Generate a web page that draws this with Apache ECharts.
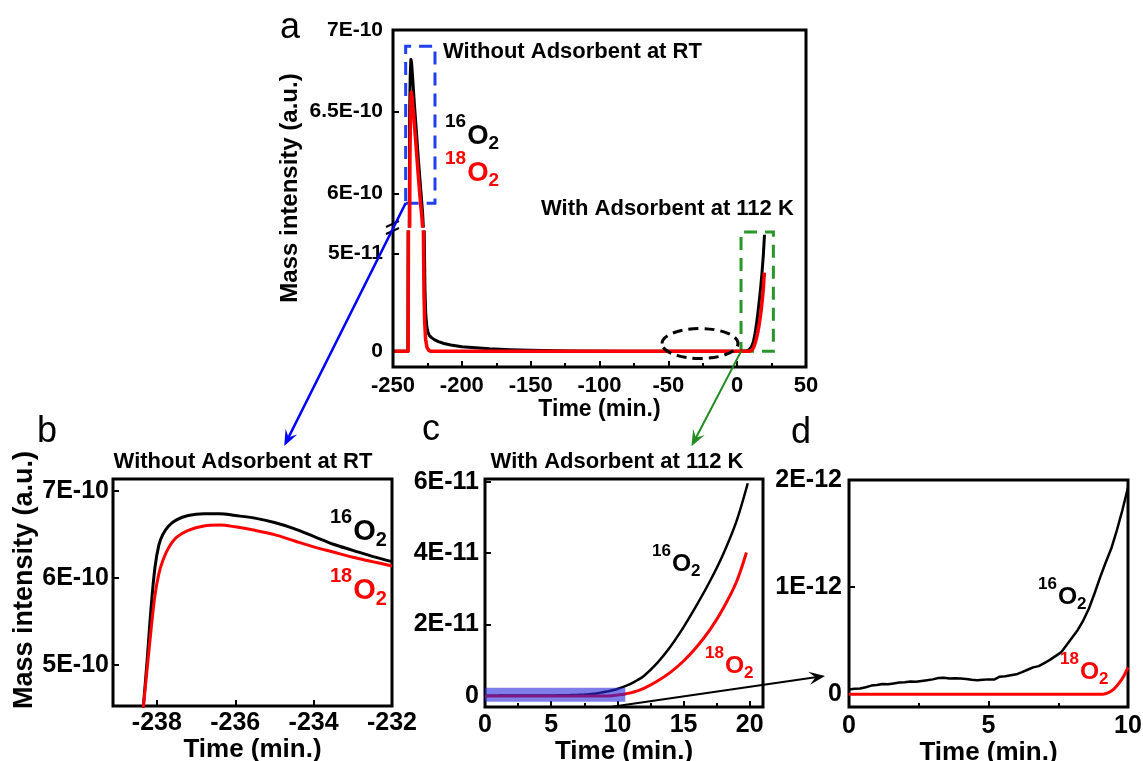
<!DOCTYPE html>
<html>
<head>
<meta charset="utf-8">
<script src="https://cdn.jsdelivr.net/npm/echarts@6/dist/echarts.min.js"></script>
<style>
  html, body { margin: 0; padding: 0; background: #fff; }
  #chart { width: 1143px; height: 761px; }
</style>
</head>
<body>
<div id="chart"></div>
<script>
// ---------------- data (time in min., intensity in a.u.) ----------------

// Panel a: desorption peak without adsorbent at RT, plus the slow tail
const aPeakO16Time = [-250, -239.2, -238.8, -238.5, -238.2, -237.9, -237.5, -237.0, -236.5, -235.5, -234.5, -233, -231.5, -230, -228.5, -228.0,
                      -227.4, -226.8, -226.2, -225.4, -224.5, -223.5, -222, -220, -217, -213, -208, -200, -190, -180, -165, -150, -120, -80];
const aPeakO16 = [0, 0, 1.2e-10, 3.6e-10, 5.8e-10, 6.5e-10, 6.72e-10, 6.82e-10, 6.8e-10, 6.68e-10, 6.55e-10, 6.38e-10, 6.2e-10, 6.04e-10, 5.88e-10, 5.8e-10,
                  6.5e-11, 3.2e-11, 1.9e-11, 1.25e-11, 9.5e-12, 8e-12, 7e-12, 6e-12, 5e-12, 4e-12, 3.2e-12, 2.4e-12, 1.8e-12, 1.3e-12, 0.8e-12, 0.5e-12, 0.2e-12, 0.05e-12];
const aPeakO18Time = [-250, -239.0, -238.6, -238.3, -238.0, -237.7, -237.3, -236.8, -236.3, -235, -233.5, -232, -230.5, -229, -228.4,
                      -227.9, -227.5, -227.0, -226.3, -225.3, -224, -222.5, -200];
const aPeakO18 = [0, 0, 1.2e-10, 3.4e-10, 5.5e-10, 6.2e-10, 6.5e-10, 6.62e-10, 6.6e-10, 6.48e-10, 6.32e-10, 6.15e-10, 5.99e-10, 5.85e-10, 5.78e-10,
                  6e-11, 3e-11, 1.5e-11, 6e-12, 2e-12, 0.5e-12, 0, 0];

// Panel b: zoom on the peak
const bTime = [-238.35, -238.25, -238.15, -238.05, -237.95, -237.85, -237.7, -237.5, -237.2, -236.8, -236.4, -236.0, -235.5, -235.0, -234.5, -234.0, -233.5, -233.0, -232.5, -232.0];
const bO16 = [4.5e-10, 5.05e-10, 5.65e-10, 6.12e-10, 6.38e-10, 6.5e-10, 6.6e-10, 6.67e-10, 6.72e-10, 6.74e-10, 6.74e-10, 6.72e-10, 6.69e-10, 6.64e-10, 6.57e-10, 6.48e-10, 6.39e-10, 6.32e-10, 6.25e-10, 6.19e-10];
const bO18 = [4.5e-10, 4.95e-10, 5.4e-10, 5.8e-10, 6.05e-10, 6.2e-10, 6.35e-10, 6.47e-10, 6.55e-10, 6.6e-10, 6.61e-10, 6.59e-10, 6.55e-10, 6.5e-10, 6.43e-10, 6.36e-10, 6.3e-10, 6.24e-10, 6.19e-10, 6.14e-10];

// Panel d: first 10 min with adsorbent at 112 K
const dO16Time = [0, 0.2, 0.4, 0.6, 0.8, 1.0, 1.2, 1.4, 1.6, 1.8, 2.0, 2.2, 2.4, 2.6, 2.8, 3.0, 3.2, 3.4, 3.6, 3.8, 4.0, 4.2, 4.4, 4.6, 4.8, 5.0,
                  5.2, 5.4, 5.6, 5.8, 6.0, 6.2, 6.4, 6.6, 6.8, 7.0, 7.2, 7.4, 7.6, 7.8, 8.0, 8.2, 8.4, 8.6, 8.8, 9.0, 9.2, 9.4, 9.6, 9.8, 10.0];
const dO16 = [0.044e-12, 0.05e-12, 0.053e-12, 0.065e-12, 0.08e-12, 0.085e-12, 0.095e-12, 0.092e-12, 0.1e-12, 0.108e-12, 0.112e-12, 0.118e-12, 0.115e-12,
              0.122e-12, 0.13e-12, 0.138e-12, 0.15e-12, 0.153e-12, 0.146e-12, 0.149e-12, 0.147e-12, 0.142e-12, 0.135e-12, 0.13e-12, 0.134e-12, 0.138e-12,
              0.136e-12, 0.163e-12, 0.168e-12, 0.176e-12, 0.185e-12, 0.205e-12, 0.228e-12, 0.25e-12, 0.262e-12, 0.29e-12, 0.32e-12, 0.355e-12, 0.39e-12,
              0.46e-12, 0.53e-12, 0.6e-12, 0.69e-12, 0.8e-12, 0.94e-12, 1.09e-12, 1.23e-12, 1.36e-12, 1.53e-12, 1.72e-12, 1.93e-12];
const dO18Time = [0, 9.1, 9.3, 9.5, 9.7, 9.85, 10.0];
const dO18 = [0, 0, 0.015e-12, 0.05e-12, 0.11e-12, 0.17e-12, 0.25e-12];

// Panel c: the rise after 10 min (continues the panel d data)
const riseO16Time = [10.5, 11, 11.5, 12, 13, 14, 15, 16, 17, 18, 19, 19.85];
const riseO16 = [2.6e-12, 3.4e-12, 4.4e-12, 5.6e-12, 9.2e-12, 13.8e-12, 19.3e-12, 25.5e-12, 32.2e-12, 39.8e-12, 49e-12, 59.6e-12];
const riseO18Time = [10.5, 11, 11.5, 12, 13, 14, 15, 16, 17, 18, 19, 19.75];
const riseO18 = [0.5e-12, 0.85e-12, 1.4e-12, 2.1e-12, 4.1e-12, 6.6e-12, 9.8e-12, 13.8e-12, 18.6e-12, 24.6e-12, 32e-12, 40.2e-12];

// Tick values
const aXTicksInterval = 50;
const aTopYTicks = [6e-10, 6.5e-10, 7e-10];
const aBotYTicks = [0, 5e-11];
const bXTicks = [-238, -236, -234, -232];
const bYTicks = [5e-10, 6e-10, 7e-10];
const cYTicks = [0, 2e-11, 4e-11, 6e-11];
const dYTicks = [0, 1e-12, 2e-12];

// ---------------- helpers ----------------
const FONT = '"Liberation Sans", Arial, Helvetica, sans-serif';
const RED = '#ff0000';
const BLUE = '#1f3ff0';
const GREEN = '#2a962a';
const zip = (xs, ys) => xs.map((x, i) => [x, ys[i]]);
const sci = v => v === 0 ? '0' : Number(v.toPrecision(6)).toExponential().toUpperCase().replace('+', '');

const cO16 = zip(dO16Time, dO16).concat(zip(riseO16Time, riseO16));
const cO18 = zip(dO18Time, dO18).concat(zip(riseO18Time, riseO18));
const aO16 = zip(aPeakO16Time, aPeakO16).concat(cO16);
const aO18 = zip(aPeakO18Time, aPeakO18).concat(cO18);

// ---------------- layout ----------------
const GRIDS = [
  { left: 393, top: 30,  width: 413, height: 196 },  // a, upper (broken) part
  { left: 393, top: 232, width: 413, height: 135 },  // a, lower part
  { left: 113, top: 479, width: 279, height: 227 },  // b
  { left: 485, top: 479, width: 278, height: 228 },  // c
  { left: 849, top: 480, width: 279, height: 227 }   // d
];

const TICK_STYLE = { color: '#000', width: 2 };

function xAx(gridIndex, extra, fs, margin) {
  return Object.assign({
    type: 'value', gridIndex: gridIndex,
    axisLine: { show: false, onZero: false },
    axisTick: { inside: true, length: 6, lineStyle: TICK_STYLE },
    minorTick: { show: true, splitNumber: 2, length: 4, lineStyle: TICK_STYLE },
    splitLine: { show: false },
    axisLabel: { color: '#000', fontWeight: 'bold', fontSize: fs, fontFamily: FONT, margin: margin },
    nameLocation: 'middle',
    nameTextStyle: { color: '#000', fontWeight: 'bold', fontFamily: FONT }
  }, extra);
}
function yAx(gridIndex, min, max, ticks, fs, margin) {
  return {
    type: 'value', gridIndex: gridIndex, min: min, max: max,
    axisLine: { show: false, onZero: false },
    axisTick: { inside: true, length: 6, customValues: ticks, lineStyle: TICK_STYLE },
    splitLine: { show: false },
    axisLabel: { customValues: ticks, formatter: sci, color: '#000', fontWeight: 'bold', fontSize: fs, fontFamily: FONT, margin: margin }
  };
}
function line(name, xi, data, color, width, extra) {
  return Object.assign({
    name: name, type: 'line', xAxisIndex: xi, yAxisIndex: xi, data: data,
    symbol: 'none', clip: true, silent: true,
    lineStyle: { color: color, width: width, join: 'round' }, itemStyle: { color: color }
  }, extra || {});
}
function dashedBox(p1, p2, color) {
  return {
    silent: true, z: 3,
    itemStyle: { color: 'rgba(0,0,0,0)', borderColor: color, borderWidth: 3, borderType: [13, 8] },
    data: [[{ coord: p1 }, { coord: p2 }]]
  };
}
const nameStyle = fs => ({ color: '#000', fontWeight: 'bold', fontFamily: FONT, fontSize: fs });

const chart = echarts.init(document.getElementById('chart'));

chart.setOption({
  animation: false,
  backgroundColor: '#fff',
  grid: GRIDS.map((g, i) => Object.assign({
    show: i >= 2, borderColor: '#000', borderWidth: 3, containLabel: false, outerBoundsMode: 'none'
  }, g)),
  xAxis: [
    xAx(0, { min: -250, max: 50, interval: aXTicksInterval, show: false }, 22, 8),
    xAx(1, { min: -250, max: 50, interval: aXTicksInterval, name: 'Time (min.)', nameGap: 31, nameTextStyle: nameStyle(23) }, 22, 8),
    xAx(2, { min: -239.12, max: -232, minorTick: { show: false },
             axisTick: { inside: true, length: 6, customValues: bXTicks, lineStyle: TICK_STYLE },
             axisLabel: { customValues: bXTicks, color: '#000', fontWeight: 'bold', fontSize: 25, fontFamily: FONT, margin: 5 },
             name: 'Time (min.)', nameGap: 27, nameTextStyle: nameStyle(26) }, 25, 5),
    xAx(3, { min: 0, max: 21, interval: 5, name: 'Time (min.)', nameGap: 27, nameTextStyle: nameStyle(26) }, 25, 6),
    xAx(4, { min: 0, max: 10, interval: 5, name: 'Time (min.)', nameGap: 29, nameTextStyle: nameStyle(26) }, 25, 7)
  ],
  yAxis: [
    yAx(0, 5.8e-10, 7e-10, aTopYTicks, 21, 10),
    yAx(1, -0.8e-11, 6.1e-11, aBotYTicks, 21, 10),
    yAx(2, 4.53e-10, 7.14e-10, bYTicks, 25, 4),
    yAx(3, -0.31e-11, 6.08e-11, cYTicks, 25, 6),
    yAx(4, -0.12e-12, 2e-12, dYTicks, 25, 7)
  ],
  series: [
    // a, upper part
    line('16O2', 0, aO16, '#000', 3, { markArea: dashedBox([-240.8, 5.94e-10], [-219.5, 6.9e-10], BLUE) }),
    line('18O2', 0, aO18, RED, 3.5),
    // a, lower part
    line('16O2', 1, aO16, '#000', 3, { markArea: dashedBox([2.8, 0], [26.3, 6.1e-11], GREEN) }),
    line('18O2', 1, aO18, RED, 3.5),
    // b
    line('16O2', 2, zip(bTime, bO16), '#000', 3, { smooth: 0.35 }),
    line('18O2', 2, zip(bTime, bO18), RED, 3, { smooth: 0.35 }),
    // c
    line('16O2', 3, cO16, '#000', 2.5, { smooth: 0.3 }),
    line('18O2', 3, cO18, RED, 3, { smooth: 0.3 }),
    line('range', 3, [[0, 0]], '#000', 0, {
      z: 6, lineStyle: { width: 0, opacity: 0 },
      markArea: { silent: true, z: 10, itemStyle: { color: 'rgba(40,40,220,0.6)', borderWidth: 0 },
                  data: [[{ coord: [0, -0.16e-11] }, { coord: [10.6, 0.23e-11] }]] }
    }),
    // d
    line('16O2', 4, zip(dO16Time, dO16), '#000', 2.5),
    line('18O2', 4, zip(dO18Time, dO18), RED, 3, { smooth: 0.3 })
  ]
});

// ---------------- annotations ----------------
const px = (grid, p) => chart.convertToPixel({ gridIndex: grid }, p);

function arrow(p0, p1, color, w) {
  const dx = p1[0] - p0[0], dy = p1[1] - p0[1];
  const L = Math.hypot(dx, dy), ux = dx / L, uy = dy / L, nx = -uy, ny = ux;
  const head = 16, half = 6.5;
  const base = [p1[0] - ux * head, p1[1] - uy * head];
  const notch = [p1[0] - ux * head * 0.6, p1[1] - uy * head * 0.6];
  return [
    { type: 'line', z: 60, shape: { x1: p0[0], y1: p0[1], x2: notch[0], y2: notch[1] }, style: { stroke: color, lineWidth: w } },
    { type: 'polygon', z: 60, shape: { points: [p1, [base[0] + nx * half, base[1] + ny * half], notch, [base[0] - nx * half, base[1] - ny * half]] },
      style: { fill: color } }
  ];
}

function text(x, y, str, size, opts) {
  opts = opts || {};
  return {
    type: 'text', x: x, y: y, z: 50, rotation: opts.rotation || 0,
    style: {
      text: str, fill: opts.color || '#000', fontSize: size, fontWeight: opts.weight || 'bold', fontFamily: FONT,
      align: opts.align || 'left', verticalAlign: opts.valign || 'middle'
    }
  };
}

// isotope label: superscript mass number, O, subscript 2 (X0, Y0 = top-left of the mass number)
function isoLabel(X0, Y0, mass, color, s) {
  const so = s * 1.45;
  const wSup = 2 * 0.556 * s;
  const wO = 0.778 * so;
  const st = size => ({ fill: color, fontSize: size, fontWeight: 'bold', fontFamily: FONT, verticalAlign: 'top' });
  return [
    { type: 'text', z: 50, x: X0, y: Y0 - 0.14 * s, style: Object.assign({ text: mass }, st(s)) },
    { type: 'text', z: 50, x: X0 + wSup + 1, y: Y0 + 0.6 * s - 0.14 * so, style: Object.assign({ text: 'O' }, st(so)) },
    { type: 'text', z: 50, x: X0 + wSup + 1 + wO, y: Y0 + 1.02 * s, style: Object.assign({ text: '2' }, st(s)) }
  ];
}

const ga = GRIDS[0], gb = GRIDS[1];
const ellC = px(1, [-27, 0.4e-11]);
const blueStart = px(0, [-240.8, 5.94e-10]);
const blueEnd = px(2, [-234.75, 7.52e-10]);
const greenStart = px(1, [2.8, 0]);
const greenEnd = px(3, [15.6, 7.0e-11]);
const blackStart = px(3, [9.6, -0.3e-11]);
const blackEnd = px(4, [-0.86, 0.17e-12]);

const graphic = [
  // frame of panel a (spans both parts of the broken axis)
  { type: 'rect', z: 40, shape: { x: ga.left, y: ga.top, width: ga.width, height: gb.top + gb.height - ga.top },
    style: { fill: 'none', stroke: '#000', lineWidth: 3 } },
  // axis break marks
  { type: 'line', z: 41, shape: { x1: ga.left - 7, y1: 227, x2: ga.left + 6, y2: 221 }, style: { stroke: '#000', lineWidth: 2 } },
  { type: 'line', z: 41, shape: { x1: ga.left - 7, y1: 234, x2: ga.left + 6, y2: 228 }, style: { stroke: '#000', lineWidth: 2 } },
  // dashed ellipse around the baseline before 0 min
  { type: 'ellipse', z: 45, shape: { cx: ellC[0], cy: ellC[1], rx: 38, ry: 15 },
    style: { fill: 'none', stroke: '#000', lineWidth: 3, lineDash: [10, 6] } },
  // panel letters
  text(280, 46, 'a', 36, { weight: 'normal', valign: 'bottom' }),
  text(37, 450, 'b', 36, { weight: 'normal', valign: 'bottom' }),
  text(422, 448, 'c', 36, { weight: 'normal', valign: 'bottom' }),
  text(791, 451, 'd', 36, { weight: 'normal', valign: 'bottom' }),
  // titles
  text(443, 52, 'Without Adsorbent at RT', 22),
  text(541, 209, 'With Adsorbent at 112 K', 22),
  text(243, 462, 'Without Adsorbent at RT', 22, { align: 'center' }),
  text(617, 462, 'With Adsorbent at 112 K', 22, { align: 'center' }),
  // y axis names
  text(290, 188, 'Mass intensity (a.u.)', 24, { rotation: Math.PI / 2, align: 'center' }),
  text(25, 580, 'Mass intensity (a.u.)', 27, { rotation: Math.PI / 2, align: 'center' })
]
  .concat(isoLabel(445, 115, '16', '#000', 19), isoLabel(445, 152, '18', RED, 19))
  .concat(isoLabel(330, 510, '16', '#000', 20), isoLabel(330, 569, '18', RED, 20))
  .concat(isoLabel(652, 545, '16', '#000', 17), isoLabel(705, 647, '18', RED, 17))
  .concat(isoLabel(1038, 578, '16', '#000', 17), isoLabel(1060, 653, '18', RED, 17))
  .concat(arrow(blueStart, blueEnd, '#0000ff', 2.5))
  .concat(arrow(greenStart, greenEnd, '#1e8c1e', 2))
  .concat(arrow(blackStart, blackEnd, '#000', 2));

chart.setOption({ graphic: graphic });
</script>
</body>
</html>
